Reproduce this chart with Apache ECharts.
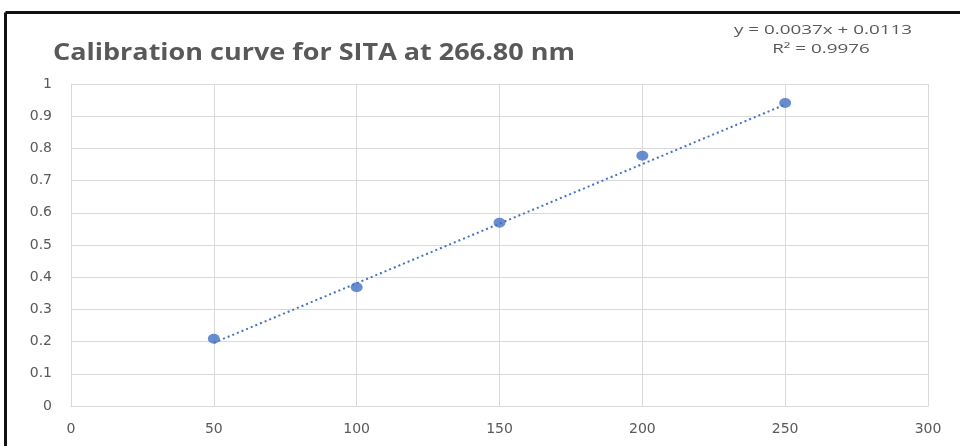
<!DOCTYPE html>
<html>
<head>
<meta charset="utf-8">
<script src="https://cdn.jsdelivr.net/npm/echarts@6/dist/echarts.min.js"></script>
<style>html,body{margin:0;padding:0;background:#fff}#c{width:960px;height:446px}</style>
</head>
<body>
<div id="c"></div>
<script>
const concentrations = [50, 100, 150, 200, 250];
const absorbances = [0.209, 0.369, 0.569, 0.777, 0.941];
const slope = 0.0037;
const intercept = 0.0113;
const trendX = [50, 250];
const xTicks = [0, 50, 100, 150, 200, 250, 300];
const yTicks = [0, 0.1, 0.2, 0.3, 0.4, 0.5, 0.6, 0.7, 0.8, 0.9, 1];
const titleText = 'Calibration curve for SITA at 266.80 nm';
const eqText = 'y = 0.0037x + 0.0113';
const r2Text = 'R\u00B2 = 0.9976';

const grey = '#595959';
const gridC = '#d9d9d9';

function textWidth(t, font) {
  const c = document.createElement('canvas').getContext('2d');
  c.font = font;
  return c.measureText(t).width;
}
const titleFont = 'bold 23px "Open Sans"';
const eqFont = '13px "Open Sans"';
const titleScale = 522 / textWidth(titleText, titleFont);
const eqScale = 178 / textWidth(eqText, eqFont);

const chart = echarts.init(document.getElementById('c'), null, {renderer: 'canvas'});
chart.setOption({
  animation: false,
  backgroundColor: '#fff',
  graphic: [
    {type: 'text', x: 53, y: 53, scaleX: titleScale,
      style: {text: titleText, x: 0, y: 0, align: 'left', verticalAlign: 'middle', font: titleFont, fill: grey}},
    {type: 'text', x: 823, y: 30, scaleX: eqScale,
      style: {text: eqText, x: 0, y: 0, align: 'center', verticalAlign: 'middle', font: eqFont, fill: grey}},
    {type: 'text', x: 821, y: 49, scaleX: eqScale,
      style: {text: r2Text, x: 0, y: 0, align: 'center', verticalAlign: 'middle', font: eqFont, fill: grey}},
    {type: 'line', shape: {x1: 5.5, y1: 12.5, x2: 960, y2: 12.5}, style: {stroke: '#111', lineWidth: 3}},
    {type: 'line', shape: {x1: 5.5, y1: 12.5, x2: 5.5, y2: 446}, style: {stroke: '#111', lineWidth: 3}}
  ],
  grid: {left: 71, right: 32, top: 84, bottom: 40, containLabel: false},
  xAxis: {
    type: 'value', min: xTicks[0], max: xTicks[xTicks.length - 1], interval: 50,
    axisLine: {show: true, lineStyle: {color: gridC, width: 1}},
    axisTick: {show: false},
    splitLine: {show: true, lineStyle: {color: gridC, width: 1}},
    axisLabel: {color: grey, fontFamily: 'DejaVu Sans', fontSize: 14, margin: 16}
  },
  yAxis: {
    type: 'value', min: yTicks[0], max: yTicks[yTicks.length - 1], interval: 0.1,
    axisLine: {show: true, lineStyle: {color: gridC, width: 1}},
    axisTick: {show: false},
    splitLine: {show: true, lineStyle: {color: gridC, width: 1}},
    axisLabel: {color: grey, fontFamily: 'DejaVu Sans', fontSize: 14, margin: 19,
      formatter: v => String(Math.round(v * 10) / 10)}
  },
  series: [
    {
      type: 'line', name: 'trend',
      data: trendX.map(x => [x, slope * x + intercept]),
      showSymbol: false, symbol: 'none',
      lineStyle: {color: '#4472C4', width: 2, type: [2, 3]},
      z: 2
    },
    {
      type: 'scatter', name: 'SITA',
      data: concentrations.map((x, i) => [x, absorbances[i]]),
      symbol: 'circle', symbolSize: [12, 10],
      itemStyle: {color: '#4472C4'},
      z: 3
    }
  ]
});
</script>
</body>
</html>
